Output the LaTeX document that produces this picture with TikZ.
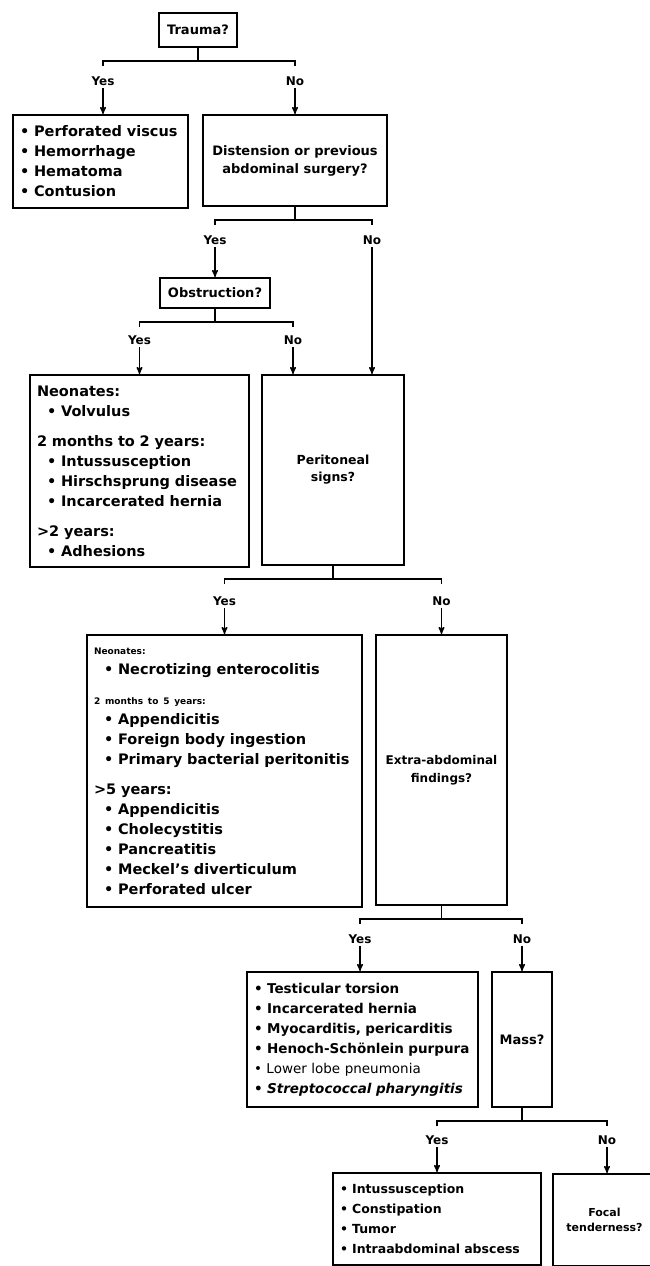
\documentclass[tikz,border=0pt]{standalone}
\usepackage{fontspec}
\setmainfont{DejaVu Sans}
\usetikzlibrary{arrows}
\tikzset{
  qbox/.style = {rectangle, draw=black, line width=2pt, align=center, inner sep=4pt,
    font=\bfseries\fontsize{13}{18}\selectfont},% question box
  lbox/.style = {rectangle, draw=black, line width=2pt, align=left, inner xsep=7pt,
    font=\bfseries\fontsize{14.5}{20}\selectfont},% list box
  ans/.style = {inner sep=2pt, font=\bfseries\fontsize{12}{13}\selectfont},% yes / no
  bar/.style = {-, line width=1.4pt},
}
\newcommand{\itm}{\hspace*{10pt}\textbullet\ }
\newcommand{\hdr}[1]{{\fontsize{9}{20}\selectfont #1}}

\begin{document}
\begin{tikzpicture}[x=1pt,y=-1pt,->,>=stealth',line width=1.4pt]
  \useasboundingbox (0,0) rectangle (650,1266);
  % questions
  \node[qbox, minimum width=78pt, minimum height=34pt] (trauma) at (198,30) {Trauma?};
  \node[qbox, minimum width=184pt, minimum height=91pt] (dist) at (295,160.5)
    {Distension or previous\\abdominal surgery?};
  \node[qbox, minimum width=110pt, minimum height=30pt] (obstr) at (215,293) {Obstruction?};
  \node[qbox, minimum width=142pt, minimum height=190pt, font=\bfseries\fontsize{12.5}{17}\selectfont] (perit) at (333,470)
    {Peritoneal\\signs?};
  \node[qbox, minimum width=131pt, minimum height=270pt, font=\bfseries\fontsize{12}{18}\selectfont] (extra) at (441.5,770)
    {Extra-abdominal\\findings?};
  \node[qbox, minimum width=60pt, minimum height=135pt] (mass) at (522,1039.5) {Mass?};
  \node[qbox, minimum width=103pt, minimum height=92pt, anchor=north west,
    font=\bfseries\fontsize{11}{15}\selectfont] (focal) at (552,1173)
    {Focal\\tenderness?};

  % lists
  \node[lbox, text width=161pt, minimum height=93pt] (perf) at (100.5,161.5)
    {\textbullet\ Perforated viscus\\\textbullet\ Hemorrhage\\\textbullet\ Hematoma\\\textbullet\ Contusion};
  \node[lbox, text width=205pt, minimum height=192pt] (obstrlist) at (139.5,471)
    {Neonates:\\\itm Volvulus\\[10pt]
     2 months to 2 years:\\\itm Intussusception\\\itm Hirschsprung disease\\\itm Incarcerated hernia\\[10pt]
     >2 years:\\\itm Adhesions};
  \node[lbox, text width=261pt, minimum height=272pt] (peritlist) at (224.5,771)
    {\hdr{Neonates:}\\\itm Necrotizing enterocolitis\\[10pt]
     \hdr{2 months to 5 years:}\\\itm Appendicitis\\\itm Foreign body ingestion\\\itm Primary bacterial peritonitis\\[10pt]
     >5 years:\\\itm Appendicitis\\\itm Cholecystitis\\\itm Pancreatitis\\\itm Meckel's diverticulum\\\itm Perforated ulcer};
  \node[lbox, text width=217pt, minimum height=135pt, font=\bfseries\fontsize{13.5}{20}\selectfont] (extralist) at (362.5,1039.5)
    {\textbullet\ Testicular torsion\\\textbullet\ Incarcerated hernia\\\textbullet\ Myocarditis, pericarditis\\
     \textbullet\ Henoch-Schönlein purpura\\{\mdseries\textbullet\ Lower lobe pneumonia}\\\textbullet\ \textit{Streptococcal pharyngitis}};
  \node[lbox, text width=194pt, minimum height=92pt, font=\bfseries\fontsize{12.5}{20}\selectfont] (masslist) at (437,1219)
    {\textbullet\ Intussusception\\\textbullet\ Constipation\\\textbullet\ Tumor\\\textbullet\ Intraabdominal abscess};

  % answers
  \node[ans] (yes1) at (103,81) {Yes};
  \node[ans] (no1) at (295,81) {No};
  \node[ans] (yes2) at (215,240) {Yes};
  \node[ans] (no2) at (372,240) {No};
  \node[ans] (yes3) at (139.5,340) {Yes};
  \node[ans] (no3) at (293,340) {No};
  \node[ans] (yes4) at (224.5,601) {Yes};
  \node[ans] (no4) at (441.5,601) {No};
  \node[ans] (yes5) at (360,939) {Yes};
  \node[ans] (no5) at (522,939) {No};
  \node[ans] (yes6) at (437,1140) {Yes};
  \node[ans] (no6) at (607,1140) {No};

  % branching bars
  \foreach \q/\y/\n in {trauma/yes1/no1, dist/yes2/no2, obstr/yes3/no3,
                        perit/yes4/no4, extra/yes5/no5, mass/yes6/no6}
  {
    \draw[bar] (\q.south) -- ++(0,13) coordinate (b\q);
    \draw[bar] ([yshift=-5pt]\y |- b\q) -- (\y |- b\q) -- (\n |- b\q) -- ([yshift=-5pt]\n |- b\q);
  }

  % arrows into boxes
  \draw (yes1) -- (yes1 |- perf.north);
  \draw (no1) -- (no1 |- dist.north);
  \draw (yes2) -- (yes2 |- obstr.north);
  \draw (no2) -- (no2 |- perit.north);
  \draw (yes3) -- (yes3 |- obstrlist.north);
  \draw (no3) -- (no3 |- perit.north);
  \draw (yes4) -- (yes4 |- peritlist.north);
  \draw (no4) -- (no4 |- extra.north);
  \draw (yes5) -- (yes5 |- extralist.north);
  \draw (no5) -- (no5 |- mass.north);
  \draw (yes6) -- (yes6 |- masslist.north);
  \draw (no6) -- (no6 |- focal.north);
\end{tikzpicture}
\end{document}
